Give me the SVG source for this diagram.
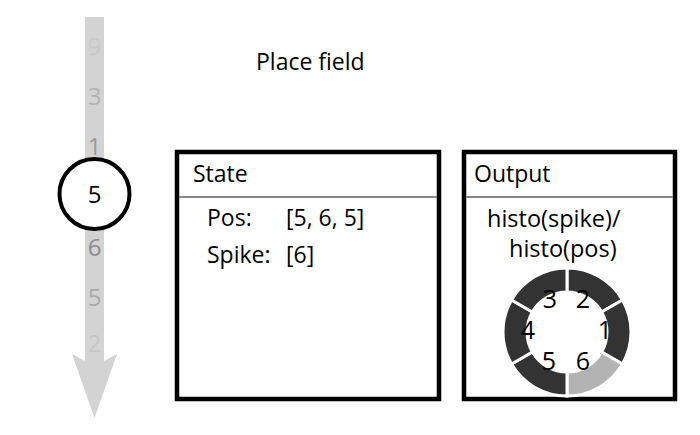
<svg xmlns="http://www.w3.org/2000/svg" width="700" height="435" viewBox="0 0 700 435">
<style>
text{font-family:"Open Sans","Noto Sans",sans-serif;fill:#000}
.t{font-size:23px}
.h{font-size:23.5px}
.d{font-size:24px;text-anchor:middle}
.box{fill:#fff;stroke:#000;stroke-width:4.5}
.hdr{stroke:#888;stroke-width:2}
.seg{fill:#333;stroke:#fff;stroke-width:3}
.seg.hi{fill:#b3b3b3}
.rl{font-size:25px;text-anchor:middle}
</style>
<rect width="700" height="435" fill="#fff"/>
<g id="timeline">
<path d="M85,17 H104 V361 L117,354 L94.5,418 L72,354 L85,361 Z" fill="#d3d3d3"/>
<text class="d" x="94.5" y="55" style="fill:#c9c9c9">9</text>
<text class="d" x="94.5" y="105" style="fill:#b3b3b3">3</text>
<text class="d" x="94.5" y="155" style="fill:#9a9a9a">1</text>
<text class="d" x="94.5" y="256" style="fill:#8c8c8c">6</text>
<text class="d" x="94.5" y="306" style="fill:#aaaaaa">5</text>
<text class="d" x="94.5" y="352" style="fill:#c6c6c6">2</text>
</g>
<g id="current">
<circle cx="94.5" cy="194" r="35" fill="#fff" stroke="#000" stroke-width="4"/>
<text class="d" x="94.5" y="203">5</text>
</g>
<g id="title">
<text class="t" x="256" y="70">Place field</text>
</g>
<g id="state">
<rect class="box" x="177" y="152" width="262" height="247"/>
<line class="hdr" x1="179" y1="197" x2="437" y2="197"/>
<text class="t" x="193" y="182">State</text>
<text class="t" x="207" y="226">Pos:</text>
<text class="t" x="286" y="226">[5, 6, 5]</text>
<text class="t" x="207" y="263">Spike:</text>
<text class="t" x="286" y="263">[6]</text>
</g>
<g id="output">
<rect class="box" x="464" y="152" width="211" height="247"/>
<line class="hdr" x1="466" y1="197" x2="673" y2="197"/>
<text class="t" x="474" y="182">Output</text>
<text class="h" x="487" y="227">histo(spike)/</text>
<text class="h" x="509" y="257">histo(pos)</text>
</g>
<g id="ring">
<path class="seg" d="M567,268 A64,64 0 0 1 622.43,300 L601.64,312 A40,40 0 0 0 567,292 Z"/>
<path class="seg" d="M622.43,300 A64,64 0 0 1 622.43,364 L601.64,352 A40,40 0 0 0 601.64,312 Z"/>
<path class="seg hi" d="M622.43,364 A64,64 0 0 1 567,396 L567,372 A40,40 0 0 0 601.64,352 Z"/>
<path class="seg" d="M567,396 A64,64 0 0 1 511.57,364 L532.36,352 A40,40 0 0 0 567,372 Z"/>
<path class="seg" d="M511.57,364 A64,64 0 0 1 511.57,300 L532.36,312 A40,40 0 0 0 532.36,352 Z"/>
<path class="seg" d="M511.57,300 A64,64 0 0 1 567,268 L567,292 A40,40 0 0 0 532.36,312 Z"/>
<text class="rl" x="550" y="308">3</text>
<text class="rl" x="583" y="308">2</text>
<text class="rl" x="528" y="339">4</text>
<text class="rl" x="605" y="339">1</text>
<text class="rl" x="549" y="370">5</text>
<text class="rl" x="583" y="370">6</text>
</g>
</svg>
